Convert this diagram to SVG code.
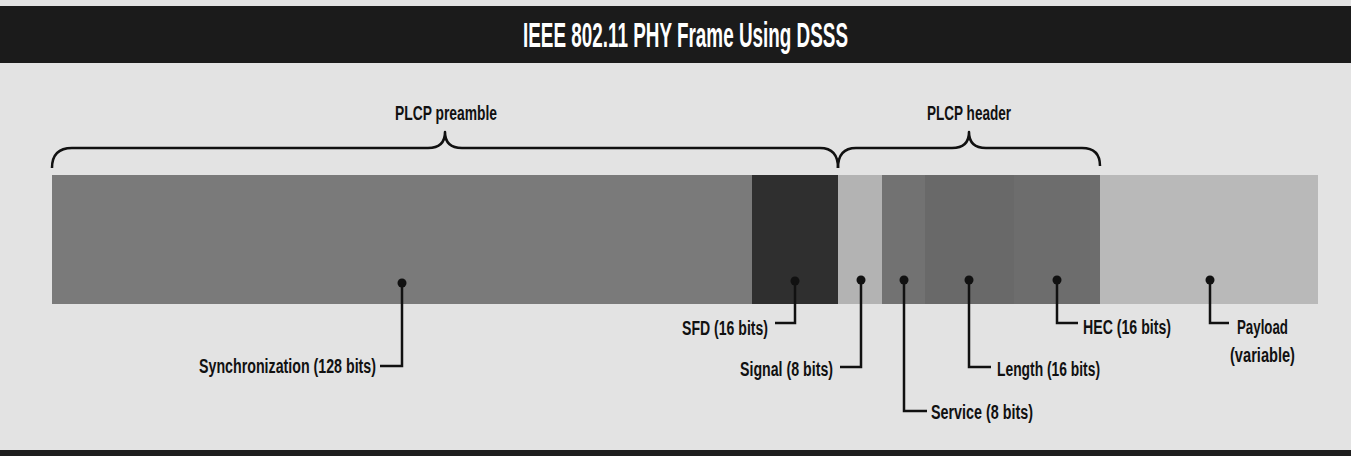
<svg xmlns="http://www.w3.org/2000/svg" width="1351" height="456" viewBox="0 0 1351 456">
<defs>
<style>
.lbl{font-family:"Liberation Sans",Arial,sans-serif;font-weight:bold;font-size:20px;fill:#111}
.hdr{font-family:"Liberation Sans",Arial,sans-serif;font-weight:bold;font-size:20px;fill:#111}
.ttl{font-family:"Liberation Sans",Arial,sans-serif;font-weight:bold;font-size:35px;fill:#fff}
.ln{fill:none;stroke:#111;stroke-width:2.5}
.br{fill:none;stroke:#111;stroke-width:2.5;stroke-linejoin:round}
.dot{fill:#111}
</style>
</defs>
<rect x="0" y="0" width="1351" height="456" fill="#e3e3e3"/>
<g id="title">
<rect x="0" y="6" width="1351" height="57" fill="#1b1b1b"/>
<text class="ttl" x="523" y="47" textLength="325" lengthAdjust="spacingAndGlyphs">IEEE 802.11 PHY Frame Using DSSS</text>
</g>
<rect x="0" y="450" width="1351" height="6" fill="#1e1e1e"/>
<g id="sync"><rect x="52" y="175" width="700" height="129" fill="#7a7a7a"/></g>
<g id="sfd"><rect x="752" y="175" width="86" height="129" fill="#2f2f2f"/></g>
<g id="signal"><rect x="838" y="175" width="44" height="129" fill="#b3b3b3"/></g>
<g id="service"><rect x="882" y="175" width="43" height="129" fill="#727272"/></g>
<g id="length"><rect x="925" y="175" width="89" height="129" fill="#696969"/></g>
<g id="hec"><rect x="1014" y="175" width="86" height="129" fill="#6d6d6d"/></g>
<g id="payload"><rect x="1100" y="175" width="218" height="129" fill="#b9b9b9"/></g>
<g id="preamble">
<path class="br" d="M52,168 Q52,148 72,148 L428,148 Q445,148 445,132 Q445,148 462,148 L820,148 Q838,148 838,168"/>
<text class="hdr" x="395" y="120" textLength="102" lengthAdjust="spacingAndGlyphs">PLCP preamble</text>
</g>
<g id="header">
<path class="br" d="M838,168 Q838,148 856,148 L952,148 Q969,148 969,132 Q969,148 986,148 L1082,148 Q1100,148 1100,166"/>
<text class="hdr" x="927" y="120" textLength="84" lengthAdjust="spacingAndGlyphs">PLCP header</text>
</g>
<g id="connectors">
<circle class="dot" cx="402" cy="283" r="4.5"/>
<path class="ln" d="M402,283 V366 H380"/>
<circle class="dot" cx="795" cy="281" r="4.5"/>
<path class="ln" d="M795,281 V323 H775"/>
<circle class="dot" cx="861" cy="280" r="4.5"/>
<path class="ln" d="M861,280 V367 H840"/>
<circle class="dot" cx="904" cy="280" r="4.5"/>
<path class="ln" d="M904,280 V411 H927"/>
<circle class="dot" cx="969" cy="280" r="4.5"/>
<path class="ln" d="M969,280 V367 H991"/>
<circle class="dot" cx="1057" cy="280" r="4.5"/>
<path class="ln" d="M1057,280 V323 H1078"/>
<circle class="dot" cx="1210" cy="280" r="4.5"/>
<path class="ln" d="M1210,280 V323 H1229"/>
</g>
<g id="labels">
<text class="lbl" x="199" y="373" textLength="177" lengthAdjust="spacingAndGlyphs">Synchronization (128 bits)</text>
<text class="lbl" x="682" y="335" textLength="86" lengthAdjust="spacingAndGlyphs">SFD (16 bits)</text>
<text class="lbl" x="740" y="376" textLength="93" lengthAdjust="spacingAndGlyphs">Signal (8 bits)</text>
<text class="lbl" x="931" y="419" textLength="102" lengthAdjust="spacingAndGlyphs">Service (8 bits)</text>
<text class="lbl" x="997" y="376" textLength="103" lengthAdjust="spacingAndGlyphs">Length (16 bits)</text>
<text class="lbl" x="1083" y="334" textLength="88" lengthAdjust="spacingAndGlyphs">HEC (16 bits)</text>
<text class="lbl" x="1237" y="334" textLength="51" lengthAdjust="spacingAndGlyphs">Payload</text>
<text class="lbl" x="1230" y="362" textLength="65" lengthAdjust="spacingAndGlyphs">(variable)</text>
</g>
</svg>
